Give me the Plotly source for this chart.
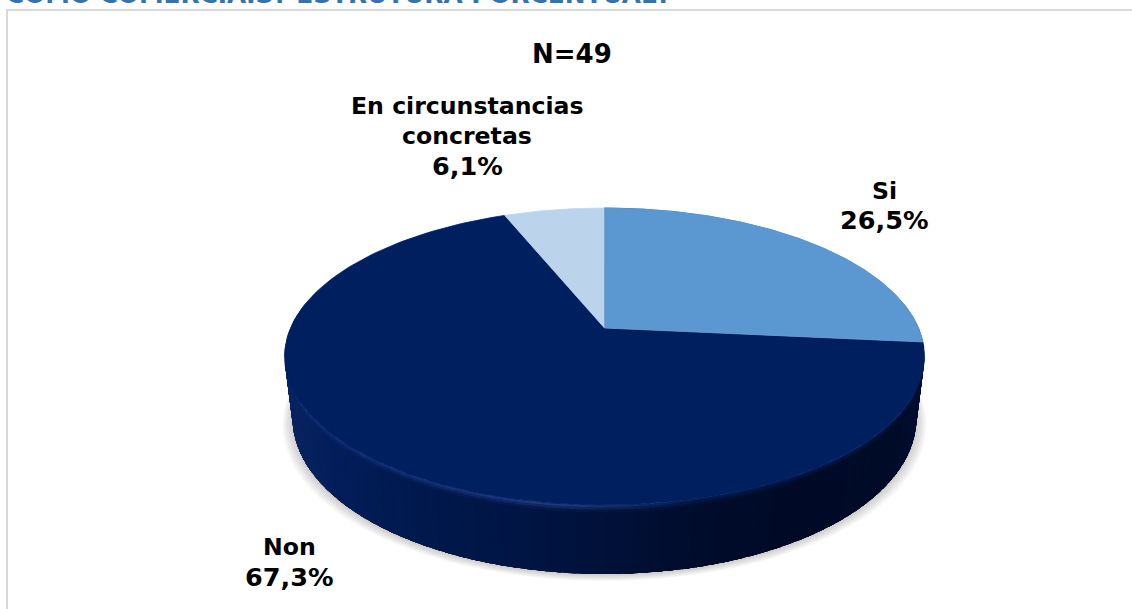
import numpy as np
import plotly.graph_objects as go

categories = ["Si", "Non", "En circunstancias concretas"]
percent = [26.5, 67.3, 6.1]
percent_labels = ["26,5%", "67,3%", "6,1%"]
face_colors = ["#5b97d1", "#001f5f", "#bcd4eb"]
title_text = "COMO COMERCIAIS? ESTRUTURA PORCENTUAL?"
n_text = "N=49"

# projection of the pie disc (page pixels)
CX, CY, A, K, D = 604.5, 328.0, 314.0, 0.1919, -80.1


def top(theta):
    u, v = np.sin(theta), np.cos(theta)
    w = 1 + K * v
    return CX + A * u / w, (CY + D * v) / w


def bottom(theta):
    u, v = np.sin(theta), np.cos(theta)
    w = 1 + K * v
    return CX + A * 0.975 * u / w, (CY + D * v) / w + 60 - 9 * v


def hx(c):
    return np.array([int(c[i:i + 2], 16) for i in (1, 3, 5)], float)


def ramp(x, stops):
    xs = [s[0] for s in stops]
    return np.array([np.interp(x, xs, [hx(s[1])[i] for s in stops]) for i in range(3)])


def rgb(c):
    return "rgb(%d,%d,%d)" % tuple(np.round(c))


rim_stops = [(285, "#08235f"), (330, "#021e5a"), (420, "#00184c"), (520, "#001544"),
             (600, "#00113a"), (700, "#000c2c"), (800, "#000a26"), (900, "#000b28"), (924, "#000e30")]
bevel_stops = [(285, "#0c2b72"), (400, "#122f78"), (560, "#1c3a82"), (630, "#0e2c6a"),
               (700, "#001a50"), (924, "#00184c")]

fig = go.Figure()


def poly(xs, ys, color, lw=0.0, lc=None):
    fig.add_trace(go.Scatter(x=xs, y=ys, mode="lines", fill="toself", fillcolor=color,
                             line=dict(width=lw, color=lc or color), hoverinfo="skip", showlegend=False))


# soft shadow below the rim
t = np.linspace(0, 2 * np.pi, 181)
for grow in [10, 8.5, 7, 5.5, 4, 2.5, 1]:
    bx, by = bottom(t)
    poly(CX + (bx - CX) * (1 + grow / 310), by + grow * 0.6 + 1, "rgba(60,60,60,0.035)")

# rim: overlapping strips around the front of the disc, with a bevel at the top edge
fractions = np.cumsum([0] + percent) / sum(percent)
edges = np.linspace(np.pi * 0.45, np.pi * 1.55, 91)
step = edges[1] - edges[0]
bands = [(0.0, 0.0), (0.035, 0.45), (0.07, 0.85), (0.11, 1.0)]
for f0, mix in bands:
    for a0 in edges[:-1]:
        ang = np.linspace(a0, a0 + step * 1.6, 3)
        tx, ty = top(ang)
        qx, qy = bottom(ang)
        xm = top(np.array([a0 + step / 2]))[0][0]
        rim_c, bev_c = ramp(xm, rim_stops), ramp(xm, bevel_stops)
        px = np.r_[tx + (qx - tx) * f0, qx[::-1]]
        py = np.r_[ty + (qy - ty) * f0, qy[::-1]]
        poly(px, py, rgb(bev_c + (rim_c - bev_c) * mix))

# top face, one slice per category, clockwise from twelve o'clock
order = [1, 2, 0]
for i in order:
    ang = np.linspace(fractions[i] * 2 * np.pi, fractions[i + 1] * 2 * np.pi, 160)
    x, y = top(ang)
    poly(np.r_[CX, x, CX], np.r_[CY, y, CY], face_colors[i], 0.8,
         "#6f9fd2" if i == 0 else face_colors[i])
    if i == 0:
        fig.add_trace(go.Scatter(x=x, y=y, mode="lines", line=dict(width=1, color="#5f8fbe"),
                                 hoverinfo="skip", showlegend=False))

# frame of the chart area
fig.add_shape(type="line", x0=7, x1=7, y0=9.5, y1=609, line=dict(color="#d9d9d9", width=2))
fig.add_shape(type="line", x0=6, x1=1132, y0=10, y1=10, line=dict(color="#d9d9d9", width=2))


def label(x, y, text, color="#000000", size=23.6, **kw):
    fig.add_annotation(x=x, y=y, text="<b>%s</b>" % text, showarrow=False,
                       font=dict(family="DejaVu Sans", size=size, color=color), **kw)


label(572, 54, n_text, size=26)
label(467.5, 106, "En circunstancias")
label(467, 136, "concretas")
label(467, 166, percent_labels[2], size=25.5)
label(884, 191, categories[0])
label(884, 220, percent_labels[0], size=25.5)
label(289, 547, categories[1])
label(289, 577, percent_labels[1], size=25.5)
label(338.5, 11.5, title_text, color="#2e75b6", size=24.8, yanchor="bottom")

fig.update_xaxes(range=[0, 1132], visible=False, fixedrange=True)
fig.update_yaxes(range=[609, 0], visible=False, fixedrange=True)
fig.update_layout(width=1132, height=609, margin=dict(l=0, r=0, t=0, b=0),
                  plot_bgcolor="white", paper_bgcolor="white", showlegend=False)
fig.write_html("out.html", config=dict(displayModeBar=False),
               post_script="document.body.style.margin='0';document.body.style.overflow='hidden';")
